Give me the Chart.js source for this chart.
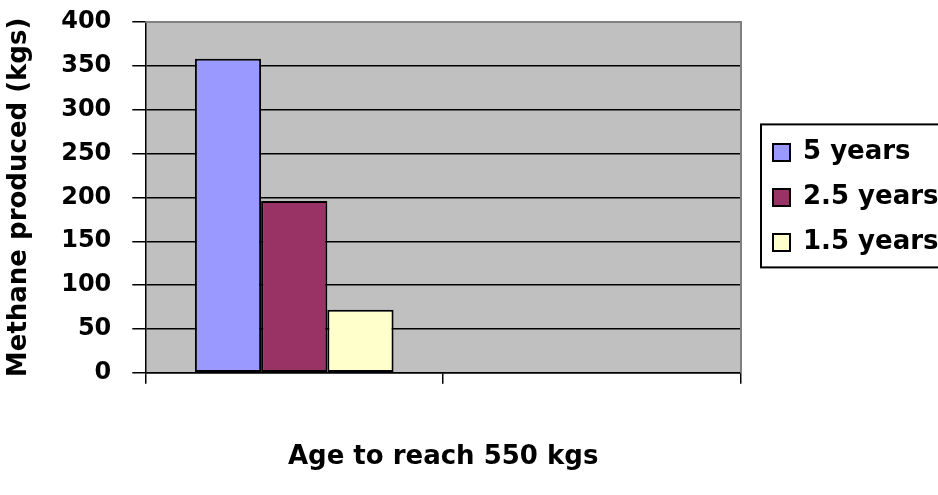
<!DOCTYPE html>
<html>
<head>
<meta charset="utf-8">
<script src="https://cdn.jsdelivr.net/npm/chart.js@4"></script>
<style>
  html, body { margin: 0; padding: 0; background: #fff; }
</style>
</head>
<body>
<canvas id="methaneChart" width="938" height="495"></canvas>
<script>
// values
const categories = ["", ""];
const seriesNames = ["5 years", "2.5 years", "1.5 years"];
const fiveYears = [358, null];
const twoHalfYears = [196, null];
const oneHalfYears = [72, null];
const seriesColors = ["#9999FF", "#993366", "#FFFFCC"];

const FONT = "'DejaVu Sans', sans-serif";

// gray plot background and grey frame, like the old Excel chart
const plotArea = {
    id: "plotArea",
    beforeDraw(chart) {
        const { ctx, chartArea: a } = chart;
        ctx.save();
        ctx.fillStyle = "#C0C0C0";
        ctx.fillRect(a.left, a.top, a.right - a.left, a.bottom - a.top);
        ctx.restore();
    },
    beforeDatasetsDraw(chart) {
        const { ctx, chartArea: a } = chart;
        ctx.save();
        ctx.strokeStyle = "#808080";
        ctx.lineWidth = 2;
        ctx.beginPath();
        ctx.moveTo(a.left, a.top);
        ctx.lineTo(a.right, a.top);
        ctx.lineTo(a.right, a.bottom);
        ctx.stroke();
        ctx.restore();
    },
    afterDraw(chart) {
        // frame round the legend
        const boxes = chart.legend.legendHitBoxes;
        if (!boxes || !boxes.length) return;
        const first = boxes[0], last = boxes[boxes.length - 1];
        const ctx = chart.ctx;
        ctx.save();
        ctx.strokeStyle = "#000";
        ctx.lineWidth = 2;
        ctx.strokeRect(first.left - 12, first.top - 15, 220, last.top + last.height - first.top + 27);
        ctx.restore();
    }
};

new Chart(document.getElementById("methaneChart"), {
    type: "bar",
    data: {
        labels: categories,
        datasets: [
            { label: seriesNames[0], data: fiveYears, backgroundColor: seriesColors[0] },
            { label: seriesNames[1], data: twoHalfYears, backgroundColor: seriesColors[1] },
            { label: seriesNames[2], data: oneHalfYears, backgroundColor: seriesColors[2] }
        ]
    },
    options: {
        responsive: false,
        animation: false,
        devicePixelRatio: 1,
        layout: { padding: { top: 22, right: 0, bottom: 22, left: 4 } },
        datasets: {
            bar: {
                categoryPercentage: 0.667,
                barPercentage: 1.0,
                borderColor: "#000",
                borderWidth: 2,
                borderSkipped: false
            }
        },
        plugins: {
            tooltip: { enabled: false },
            legend: {
                position: "right",
                fullSize: false,
                maxWidth: 184,
                labels: {
                    color: "#000",
                    font: { family: FONT, size: 26, weight: "bold" },
                    boxWidth: 17,
                    boxHeight: 17,
                    padding: 19,
                    useBorderRadius: false
                }
            }
        },
        scales: {
            x: {
                offset: true,
                grid: {
                    offset: true,
                    drawOnChartArea: false,
                    drawTicks: true,
                    tickLength: 11,
                    color: "#000",
                    lineWidth: 1.5
                },
                border: { color: "#000", width: 1.5 },
                ticks: { display: false },
                title: {
                    display: true,
                    text: "Age to reach 550 kgs",
                    color: "#000",
                    font: { family: FONT, size: 26, weight: "bold" },
                    padding: { top: 58, bottom: 0 }
                }
            },
            y: {
                min: 0,
                max: 400,
                ticks: {
                    stepSize: 50,
                    color: "#000",
                    font: { family: FONT, size: 24, weight: "bold" },
                    padding: 21
                },
                grid: {
                    color: "#000",
                    lineWidth: 1.5,
                    tickLength: 13
                },
                border: { color: "#000", width: 1.5 },
                title: {
                    display: true,
                    text: "Methane produced (kgs)",
                    color: "#000",
                    font: { family: FONT, size: 26, weight: "bold" },
                    padding: { top: 0, bottom: 5 }
                },
                // tick padding should not push the plot down
                afterFit(scale) { scale.paddingTop = 14; }
            },
            // empty spacer between the plot and the legend
            gap: {
                type: "linear",
                position: "right",
                grid: { display: false },
                border: { display: false },
                ticks: { display: false },
                afterFit(scale) { scale.width = 13; }
            }
        }
    },
    plugins: [plotArea]
});
</script>
</body>
</html>
